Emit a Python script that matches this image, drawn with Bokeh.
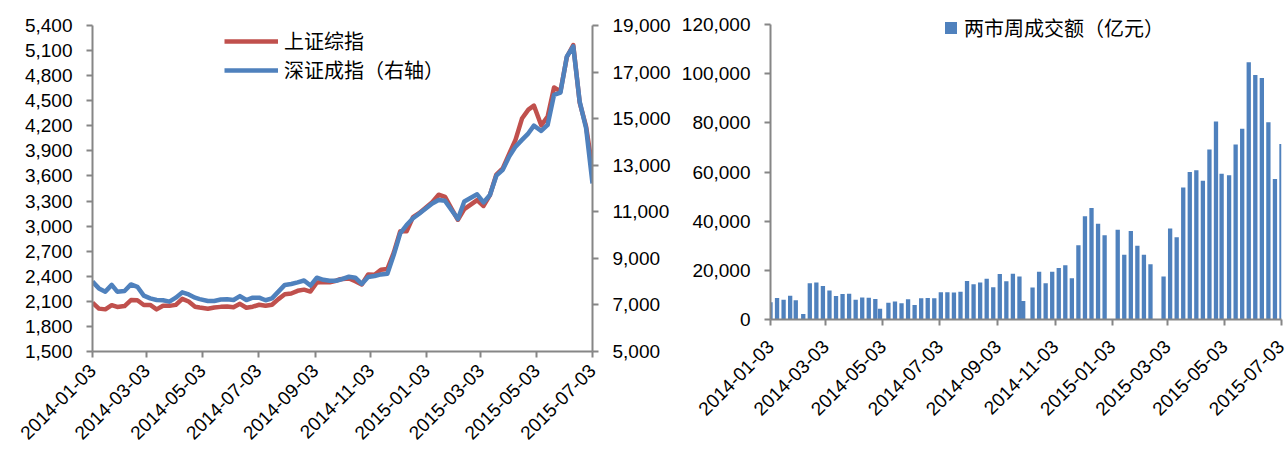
import math
import pandas as pd
from bokeh.plotting import figure
from bokeh.models import Range1d, LinearAxis, FixedTicker, NumeralTickFormatter, Legend, LegendItem
from bokeh.layouts import row
from bokeh.embed import file_html
from bokeh.resources import INLINE

# ---------------- data ----------------
dates = [
    "2014-01-03", "2014-01-10", "2014-01-17", "2014-01-24", "2014-01-30", "2014-02-07",
    "2014-02-14", "2014-02-21", "2014-02-28", "2014-03-07", "2014-03-14", "2014-03-21",
    "2014-03-28", "2014-04-04", "2014-04-11", "2014-04-18", "2014-04-25", "2014-04-30",
    "2014-05-09", "2014-05-16", "2014-05-23", "2014-05-30", "2014-06-06", "2014-06-13",
    "2014-06-20", "2014-06-27", "2014-07-04", "2014-07-11", "2014-07-18", "2014-07-25",
    "2014-08-01", "2014-08-08", "2014-08-15", "2014-08-22", "2014-08-29", "2014-09-05",
    "2014-09-12", "2014-09-19", "2014-09-26", "2014-09-30", "2014-10-10", "2014-10-17",
    "2014-10-24", "2014-10-31", "2014-11-07", "2014-11-14", "2014-11-21", "2014-11-28",
    "2014-12-05", "2014-12-12", "2014-12-19", "2014-12-26", "2015-01-09", "2015-01-16",
    "2015-01-23", "2015-01-30", "2015-02-06", "2015-02-13", "2015-02-27", "2015-03-06",
    "2015-03-13", "2015-03-20", "2015-03-27", "2015-04-03", "2015-04-10", "2015-04-17",
    "2015-04-24", "2015-04-30", "2015-05-08", "2015-05-15", "2015-05-22", "2015-05-29",
    "2015-06-05", "2015-06-12", "2015-06-19", "2015-06-26", "2015-07-03",
]

sse = [
    2083, 2013, 2004, 2054, 2033, 2044, 2115, 2113, 2056, 2057, 2004, 2047,
    2046, 2058, 2130, 2098, 2036, 2026, 2011, 2026, 2034, 2039, 2030, 2070,
    2024, 2036, 2059, 2047, 2059, 2127, 2185, 2194, 2226, 2240, 2217, 2326,
    2331, 2329, 2347, 2364, 2374, 2341, 2302, 2420, 2418, 2478, 2487, 2683,
    2938, 2938, 3108, 3157, 3285, 3376, 3351, 3210, 3076, 3204, 3311, 3241,
    3372, 3617, 3691, 3864, 4035, 4287, 4394, 4442, 4206, 4309, 4658, 4611,
    5023, 5166, 4478, 4192, 3687,
]

szse = [
    8000, 7710, 7570, 7860, 7570, 7600, 7880, 7780, 7400, 7280, 7210, 7200,
    7140, 7310, 7540, 7450, 7310, 7250, 7170, 7170, 7230, 7240, 7210, 7380,
    7210, 7310, 7310, 7200, 7280, 7570, 7860, 7900, 7970, 8050, 7830, 8170,
    8080, 8040, 8040, 8080, 8210, 8170, 7900, 8200, 8240, 8310, 8340, 9150,
    10070, 10430, 10720, 10930, 11360, 11510, 11470, 11080, 10690, 11440, 11750, 11400,
    11720, 12550, 12800, 13370, 13800, 14090, 14370, 14700, 14470, 14730, 16020, 16120,
    17670, 18100, 15730, 14590, 12220,
]

turnover = [
    7000, 8700, 8000, 9700, 7850, 2250, 14700, 15100, 13600, 11800, 9600, 10400,
    10500, 8000, 8900, 8800, 8300, 4400, 6850, 7350, 6600, 8250, 5900, 8600,
    8750, 8600, 11100, 11100, 11000, 11300, 15700, 14300, 15100, 16600, 13100, 18500,
    15600, 18600, 17500, 7500, 13000, 19400, 14700, 19400, 20900, 22100, 16800, 30200,
    42000, 45400, 39000, 34300, 36500, 26300, 36000, 30000, 26300, 22500, 17500, 37000,
    33500, 53700, 60000, 60700, 56400, 69200, 80500, 59300, 58700, 71200, 77600, 104600,
    99500, 98200, 80200, 57200, 71400,
]

x_tick_labels = ["2014-01-03", "2014-03-03", "2014-05-03", "2014-07-03", "2014-09-03",
                 "2014-11-03", "2015-01-03", "2015-03-03", "2015-05-03", "2015-07-03"]
sse_ticks = [1500, 1800, 2100, 2400, 2700, 3000, 3300, 3600, 3900, 4200, 4500, 4800, 5100, 5400]
szse_ticks = [5000, 7000, 9000, 11000, 13000, 15000, 17000, 19000]
turnover_ticks = [0, 20000, 40000, 60000, 80000, 100000, 120000]

series_names = ["上证综指", "深证成指（右轴）", "两市周成交额（亿元）"]

# ---------------- helpers ----------------
origin = pd.Timestamp(dates[0])
xs = [(pd.Timestamp(d) - origin).days for d in dates]
x_ticks = [(pd.Timestamp(t) - origin).days for t in x_tick_labels]
x_end = x_ticks[-1]

RED = "#C0504D"
BLUE = "#4F81BD"
AXIS = "#868686"
NUM_FONT = "Liberation Sans"
CJK_FONT = "Noto Sans CJK SC"
NUM_SIZE = "19px"


def style_axis(ax):
    ax.axis_line_color = AXIS
    ax.axis_line_width = 2
    ax.major_tick_line_color = AXIS
    ax.major_tick_line_width = 2
    ax.major_tick_out = 6
    ax.major_tick_in = 0
    ax.minor_tick_out = 0
    ax.minor_tick_in = 0
    ax.major_label_text_font = NUM_FONT
    ax.major_label_text_font_size = NUM_SIZE
    ax.major_label_text_color = "#000000"
    ax.major_label_standoff = 14


def x_axis_setup(p, standoff):
    ax = p.xaxis[0]
    ax.ticker = FixedTicker(ticks=x_ticks)
    ax.major_label_overrides = {t: lab for t, lab in zip(x_ticks, x_tick_labels)}
    style_axis(ax)
    ax.major_label_orientation = math.pi / 4
    ax.major_label_standoff = standoff


def clean(p):
    p.outline_line_color = None
    p.xgrid.visible = False
    p.ygrid.visible = False
    p.background_fill_color = "white"
    p.border_fill_color = "white"


# ---------------- left chart ----------------
p1 = figure(width=678, height=450, output_backend="svg", toolbar_location=None, title=None,
            frame_align=False,
            x_range=Range1d(0, x_end), y_range=Range1d(sse_ticks[0], sse_ticks[-1]),
            min_border_left=92, min_border_right=86, min_border_top=25, min_border_bottom=99)
clean(p1)

p1.extra_y_ranges = {"sz": Range1d(szse_ticks[0], szse_ticks[-1])}
ax_r = LinearAxis(y_range_name="sz")
p1.add_layout(ax_r, "right")

r_red = p1.line(xs, sse, line_color=RED, line_width=4.5, line_join="round")
r_blue = p1.line(xs, szse, y_range_name="sz", line_color=BLUE, line_width=4.5, line_join="round")

x_axis_setup(p1, 10)
p1.yaxis[0].ticker = FixedTicker(ticks=sse_ticks)
p1.yaxis[0].formatter = NumeralTickFormatter(format="0,0")
style_axis(p1.yaxis[0])
ax_r.ticker = FixedTicker(ticks=szse_ticks)
ax_r.formatter = NumeralTickFormatter(format="0,0")
style_axis(ax_r)

leg1 = Legend(items=[LegendItem(label=series_names[0], renderers=[r_red]),
                     LegendItem(label=series_names[1], renderers=[r_blue])],
              location=(132, 267), orientation="vertical",
              glyph_width=54, glyph_height=26, label_height=26, label_standoff=6,
              spacing=0, padding=0, margin=0,
              border_line_alpha=0, background_fill_alpha=0,
              label_text_font=CJK_FONT, label_text_font_size="20px",
              label_text_color="#000000")
p1.add_layout(leg1)

# ---------------- right chart ----------------
top_room = 1.0475  # frame reaches a little above the last tick so the legend fits inside
p2 = figure(width=607, height=450, output_backend="svg", toolbar_location=None, title=None,
            frame_align=False,
            x_range=Range1d(0, x_end),
            y_range=Range1d(turnover_ticks[0], turnover_ticks[-1] * top_room),
            min_border_left=91, min_border_right=4, min_border_top=10, min_border_bottom=131)
clean(p2)

r_bar = p2.vbar(x=xs, top=turnover, width=4.6, bottom=0, fill_color=BLUE, line_color=None)

x_axis_setup(p2, 18)
p2.yaxis[0].ticker = FixedTicker(ticks=turnover_ticks)
p2.yaxis[0].formatter = NumeralTickFormatter(format="0,0")
p2.yaxis[0].bounds = (turnover_ticks[0], turnover_ticks[-1])
style_axis(p2.yaxis[0])

leg2 = Legend(items=[LegendItem(label=series_names[2], renderers=[r_bar])],
              location=(173, 277), orientation="vertical",
              glyph_width=15, glyph_height=15, label_height=15, label_standoff=6,
              spacing=0, padding=0, margin=0,
              border_line_alpha=0, background_fill_alpha=0,
              label_text_font=CJK_FONT, label_text_font_size="20px",
              label_text_color="#000000")
p2.add_layout(leg2)

layout = row(p1, p2)
open("out.html", "w").write(file_html(layout, INLINE))
